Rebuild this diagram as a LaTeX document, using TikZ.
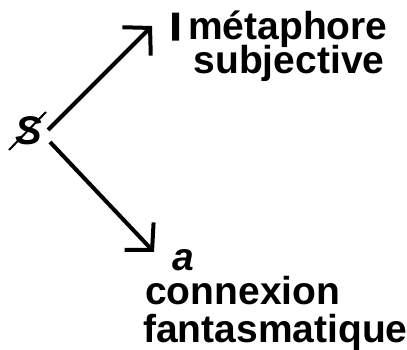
\documentclass[tikz,border=0pt]{standalone}
\usepackage{fontspec}
\setmainfont{Liberation Sans}
\usetikzlibrary{arrows.meta}
\begin{document}
\begin{tikzpicture}[x=1pt,y=-1pt,
  lbl/.style={inner sep=0pt, font=\fontsize{39}{39}\selectfont\bfseries},
  ital/.style={inner sep=0pt, font=\fontsize{39}{39}\selectfont\bfseries\itshape},
  sym/.style={inner sep=0pt, font=\fontsize{40}{40}\selectfont\bfseries\itshape},
  arr/.style={line width=4pt, -{Straight Barb[length=19pt,width=40pt]}},
  barline/.style={line width=2pt}]
\useasboundingbox (0,0) rectangle (407,350);
% barred S
\node[sym, anchor=base west] (S) at (15,145) {S};
\coordinate (s1) at (9,150);
\coordinate (s2) at (46,112);
\draw[barline] (s1) -- (s2);
% top labels
\node[lbl, anchor=base west] (I) at (170,40) {\addfontfeature{FakeBold=3}I};
\node[lbl, anchor=base west] (meta) at (188,40) {métaphore};
\node[lbl, anchor=base] (subj) at (289,74) {subjective};
% bottom labels
\node[ital, anchor=base west] (a) at (172,270) {a};
\node[lbl, anchor=base west] (conn) at (145,304) {connexion};
\node[lbl, anchor=base west] (fant) at (143,342) {fantasmatique};
% arrows
\coordinate (o1) at (48,130);
\coordinate (t1) at (152,26);
\coordinate (o2) at (50,142);
\coordinate (t2) at (154,252);
\draw[arr] (o1) -- (t1);
\draw[arr] (o2) -- (t2);
\end{tikzpicture}
\end{document}
